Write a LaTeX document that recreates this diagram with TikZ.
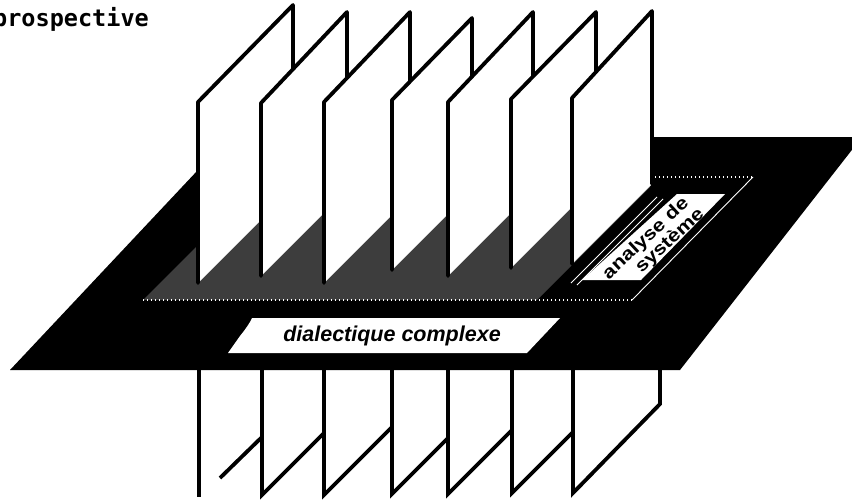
\documentclass[tikz,border=0pt]{standalone}
\usepackage{fontspec}
\setmainfont{Liberation Sans}
\newfontfamily\prosfont{DejaVu Sans Mono}
\newfontfamily\labelfont[FakeStretch=1.2]{Liberation Sans}
\begin{document}
\begin{tikzpicture}[x=1pt,y=-1pt,
  panelfill/.style={fill=white},
  paneledge/.style={draw=black,line width=3.8pt,line join=round,line cap=round},
  loweredge/.style={draw=black,line width=3.8pt,line join=miter},
  shadow/.style={fill=black!76},
  dotline/.style={draw=white,line width=1.1pt,dash pattern=on 1.4pt off 2.6pt},
  thinwhite/.style={draw=white,line width=0.9pt},
  labelbox/.style={fill=white},
  labeltext/.style={rotate=43,inner sep=0pt,font=\labelfont\bfseries\fontsize{18}{18}\selectfont}]
\useasboundingbox (0,0) rectangle (852,499);

% title
\node[anchor=base west,inner sep=0pt,font=\prosfont\bfseries\fontsize{23.5}{23.5}\selectfont] (pros) at (-7,26) {prospective};

% base plate
\fill[black] (10,370) -- (229,137) -- (862,137) -- (680,370) -- cycle;
% shadowed inner surface
\fill[shadow] (143,300) -- (266,177) -- (650,177) -- (650,187) -- (537,300) -- cycle;
\draw[dotline] (143,300) -- (632,300);
\draw[dotline] (655,177) -- (753,177);
\draw[thinwhite] (753,177) -- (632,300);
\draw[thinwhite] (571,283) -- (657,197);
\draw[thinwhite] (577,285) -- (663,199);

% label analyse de systeme
\fill[labelbox] (582,280) -- (641,280) -- (725,194) -- (677,194) -- cycle;
\node[labeltext] (as1) at (646,239) {analyse de};
\node[labeltext] (as2) at (670,241) {système};

% label dialectique complexe
\fill[labelbox] (228,353) -- (527,353) -- (560,318) -- (252,318) -- (250,322)
  .. controls (247,327) and (244,331) .. (240,336) -- cycle;
\node[inner sep=0pt,font=\bfseries\itshape\fontsize{21.5}{21.5}\selectfont] (dc) at (392,336) {dialectique complexe};

% upper parts of the panels (L/TLy/R/TRy/B)
\foreach \L/\T/\R/\U/\B [count=\i] in {198/102/293/5/283, 261/103/347/12/276, 324/102/410/12/283, 392/100/472/18/270, 448/102/533/12/276, 511/99/596/12/268, 572/98/652/11/264}{
  \pgfmathsetmacro{\E}{\B-(\R-\L)}
  \fill[panelfill] (\L,\B) -- (\L,\T) -- (\R,\U) -- (\R,\E) -- cycle;
  \draw[paneledge] (\L,\B) -- (\L,\T) -- (\R,\U) -- (\R,\E);
}

% lower parts of the panels
\draw[loweredge] (199,370) -- (199,497);
\draw[loweredge] (220,478) -- (262,437);
\draw[loweredge] (262,370) -- (262,495) -- (324,433);
\draw[loweredge] (324,370) -- (324,495) -- (392,427);
\draw[loweredge] (392,370) -- (392,494) -- (448,438);
\draw[loweredge] (448,370) -- (448,494) -- (512,430);
\draw[loweredge] (512,370) -- (512,493) -- (573,432);
\draw[loweredge] (573,370) -- (573,493) -- (660,404) -- (660,370);
\end{tikzpicture}
\end{document}
